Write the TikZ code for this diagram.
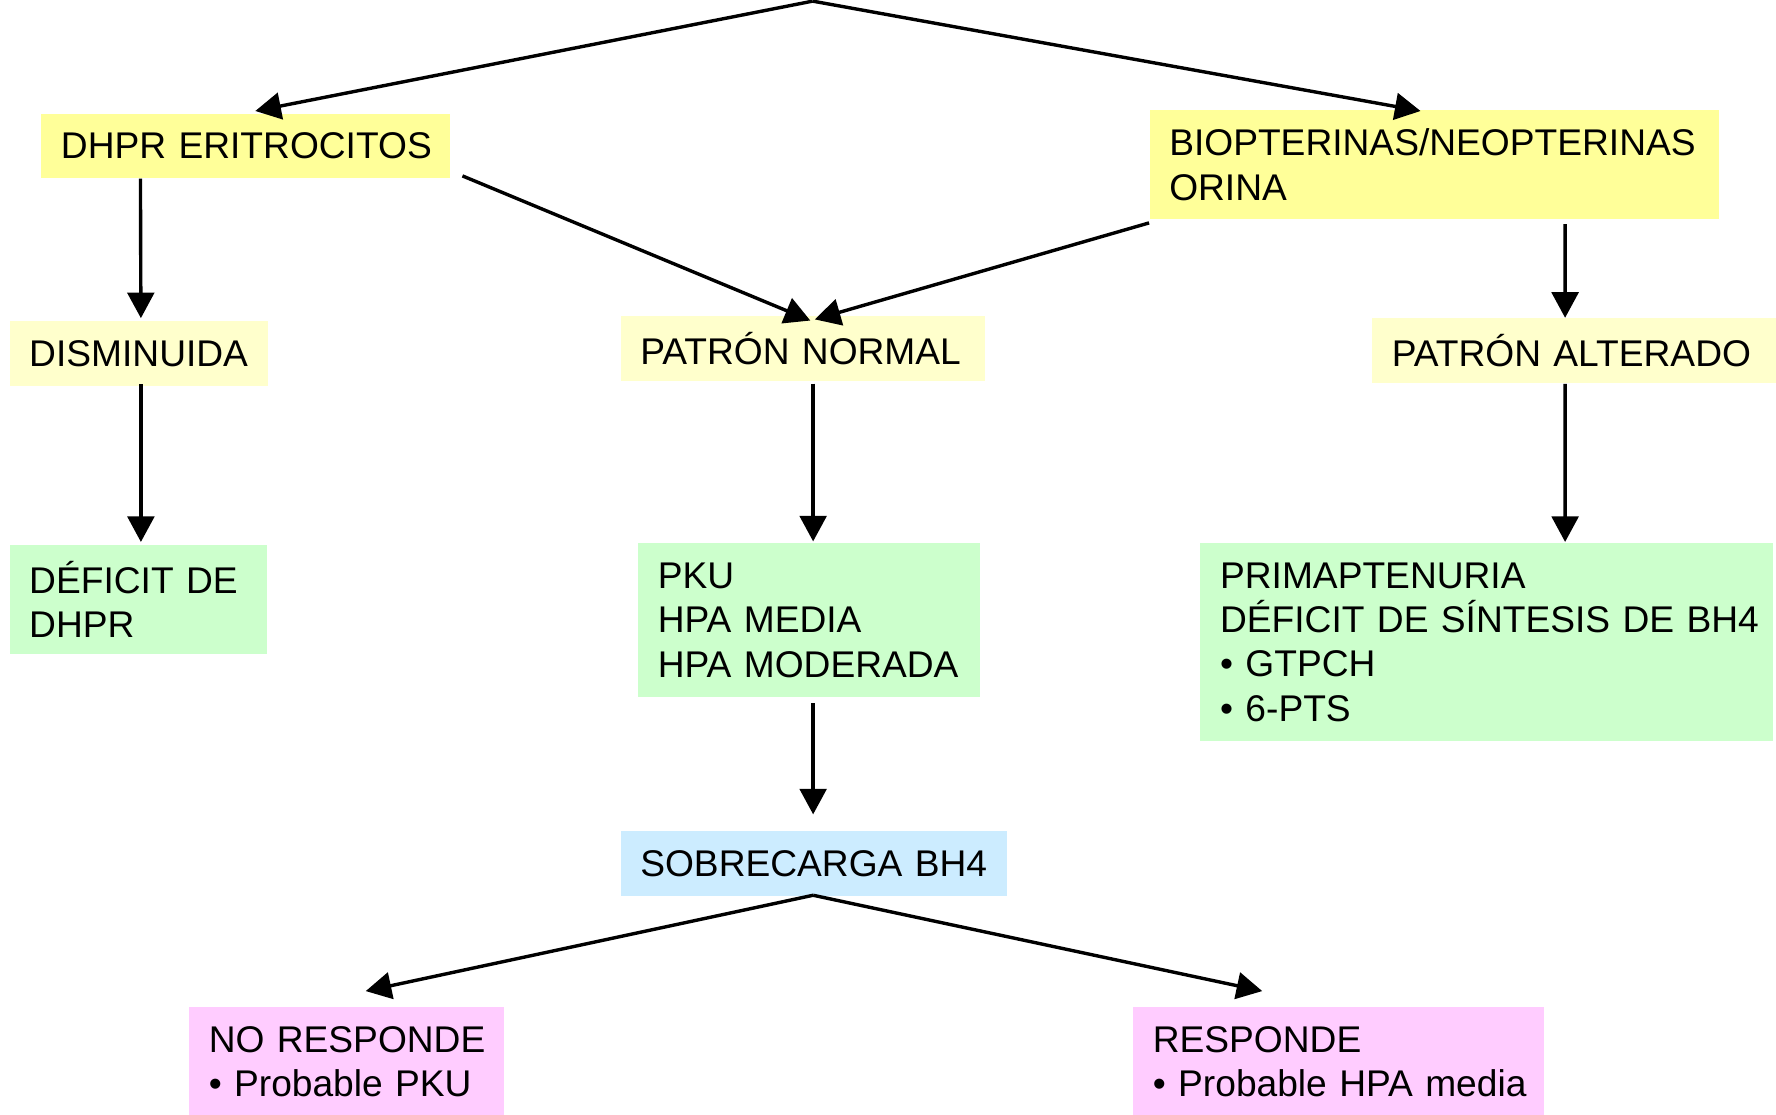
\documentclass[tikz,border=0pt]{standalone}
\usepackage{fontspec}
\setmainfont{Liberation Sans}
\usetikzlibrary{arrows.meta,calc}
\definecolor{ylw}{HTML}{FFFF99}
\definecolor{lylw}{HTML}{FFFFCC}
\definecolor{grn}{HTML}{CCFFCC}
\definecolor{blu}{HTML}{CCECFF}
\definecolor{pnk}{HTML}{FFCCFF}
\begin{document}
\begin{tikzpicture}[x=0.5pt,y=-0.5pt,
  box/.style={anchor=north west,draw=none,inner xsep=8.7pt,inner ysep=0pt,align=left,
    font=\fontsize{16.4}{19.6}\selectfont},
  arr/.style={line width=1.5pt,-{Triangle[length=11.3pt,width=11.8pt]}}]
\useasboundingbox (0,0) rectangle (1568,984.4);
% boxes
\node[box,fill=ylw,text width=163.1pt,minimum height=28.5pt] (dhpr) at (36,100) {\mbox{DHPR ERITROCITOS}};
\node[box,fill=ylw,text width=233.85pt,minimum height=48pt] (biop) at (1014.5,97) {\mbox{BIOPTERINAS/NEOPTERINAS}\\ORINA};
\node[box,fill=lylw,text width=96.85pt,minimum height=28.5pt] (dism) at (8,283.4) {\mbox{DISMINUIDA}};
\node[box,fill=lylw,text width=143.6pt,minimum height=28.5pt] (normal) at (547.5,279) {\mbox{PATRÓN NORMAL}};
\node[box,fill=lylw,text width=161.1pt,minimum height=28.5pt] (alter) at (1211,280.6) {\mbox{PATRÓN ALTERADO}};
\node[box,fill=grn,text width=96.1pt,minimum height=48pt] (defdhpr) at (8,481) {\mbox{DÉFICIT DE}\\DHPR};
\node[box,fill=grn,text width=133.35pt,minimum height=68pt] (pku) at (563,479) {PKU\\\mbox{HPA MEDIA}\\\mbox{HPA MODERADA}};
\node[box,fill=grn,text width=235.4pt,minimum height=87.5pt] (prim) at (1059.4,479) {\mbox{PRIMAPTENURIA}\\\mbox{DÉFICIT DE SÍNTESIS DE BH4}\\\mbox{• GTPCH}\\\mbox{• 6-PTS}};
\node[box,fill=blu,text width=153.35pt,minimum height=28.5pt] (sobre) at (547.5,733.6) {\mbox{SOBRECARGA BH4}};
\node[box,fill=pnk,text width=121.85pt,minimum height=48pt] (nores) at (166.5,889) {\mbox{NO RESPONDE}\\\mbox{• Probable PKU}};
\node[box,fill=pnk,text width=164.1pt,minimum height=48pt] (res) at (1000,889) {\mbox{RESPONDE}\\\mbox{• Probable HPA media}};
% connectors
\coordinate (top) at (717.5,1);
\draw[arr] (top) -- ($(dhpr.north)+(8.5,-2)$);
\draw[arr] (top) -- ($(biop.north)+(-12,1)$);
\draw[arr] ($(dhpr.south east)+(10.5,-2.5)$) -- ($(normal.north)+(6.5,4)$);
\draw[arr] ($(biop.south west)+(0,3)$) -- ($(normal.north)+(10.5,3)$);
\draw[arr] ($(dhpr.south west)+(88,0)$) -- ($(dism.north)+(1.75,-2.5)$);
\draw[arr] ($(dism.south)+(1.75,-2)$) -- ($(defdhpr.north)+(2.5,-2.5)$);
\draw[arr] ($(normal.south)+(9,2)$) -- ($(pku.north)+(3.75,-1)$);
\draw[arr] ($(biop.south)+(115.6,4)$) -- ($(alter.north)+(-8.1,0)$);
\draw[arr] ($(alter.south)+(-8.1,0.5)$) -- ($(prim.north)+(69.2,-0.5)$);
\draw[arr] ($(pku.south)+(3.75,5)$) -- ($(sobre.north)+(-0.75,-14.6)$);
\coordinate (split) at ($(sobre.south)+(-0.75,-1)$);
\draw[arr] (split) -- ($(nores.north)+(16.75,-14)$);
\draw[arr] (split) -- ($(res.north)+(-67.5,-14)$);
\end{tikzpicture}
\end{document}
